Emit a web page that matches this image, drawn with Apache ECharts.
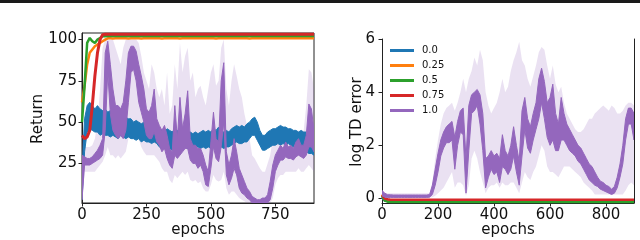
<!DOCTYPE html>
<html><head><meta charset="utf-8">
<script src="https://cdn.jsdelivr.net/npm/echarts@6/dist/echarts.min.js"></script>
<style>html,body{margin:0;padding:0;background:#fff}#c{width:640px;height:240px}</style>
</head><body><div id="c"></div>
<script>
const epochs = [
  0,10,20,30,40,50,60,70,80,90,
  100,110,120,130,140,150,160,170,180,190,
  200,210,220,230,240,250,260,270,280,290,
  300,310,320,330,340,350,360,370,380,390,
  400,410,420,430,440,450,460,470,480,490,
  500,510,520,530,540,550,560,570,580,590,
  600,610,620,630,640,650,660,670,680,690,
  700,710,720,730,740,750,760,770,780,790,
  800,810,820,830,840,850,860,870,880,890,900];
const seriesNames = ['0.0','0.25','0.5','0.75','1.0'];
const seriesColors = ['#1f77b4','#ff7f0e','#2ca02c','#d62728','#9467bd'];

// ---- Left panel: Return ----
const retBlueLo = [
  3,32,44,46,45,44,44,42,43,42,
  42,41,42,41,40,42,41,40,41,40,
  40,39,40,38,39,38,38,37,38,37,
  35,34,34,35,34,33,34,35,33,34,
  35,34,35,34,35,35,34,35,34,35,
  34,36,35,36,35,34,35,35,36,37,
  38,37,37,38,38,40,42,42,39,36,
  33,33,34,35,36,36,37,36,37,36,
  37,36,35,34,35,34,33,32,31,31,30];
const retBlueHi = [
  20,52,60,62,60,58,60,58,57,58,
  56,57,56,55,54,56,53,53,52,52,
  50,51,50,49,50,49,50,48,49,47,
  46,45,44,46,45,44,46,45,44,46,
  45,44,44,43,44,43,44,45,44,45,
  44,46,45,47,45,44,45,44,46,47,
  48,47,48,47,49,50,52,53,50,45,
  42,42,44,45,46,46,47,48,47,47,
  46,46,45,45,44,45,44,44,43,44,40];
const retOrange = [
  62,72,85,92,94,96,97,98,99,100,
  100.8,100.8,100.7,100.8,100.8,100.9,100.8,100.8,100.7,100.8,
  100.8,100.8,100.8,100.7,100.8,100.8,100.8,100.9,100.8,100.8,
  100.8,100.7,100.8,100.8,100.8,100.8,100.8,100.8,100.7,100.8,
  100.8,100.8,100.8,100.8,100.9,100.8,100.8,100.8,100.8,100.8,
  100.8,100.8,100.7,100.8,100.8,100.8,100.8,100.8,100.8,100.8,
  100.8,100.8,100.8,100.8,100.8,100.7,100.8,100.8,100.8,100.8,
  100.8,100.8,100.8,100.8,100.8,100.8,100.8,100.8,100.8,100.8,
  100.8,100.8,100.8,100.8,100.8,100.8,100.8,100.8,100.8,100.8,100.8];
const retGreen = [
  50,72,98,101,99,98,100,101,102,102,
  102.2,102.2,102.2,102.3,102.2,102.2,102.2,102.2,102.2,102.2,
  102.2,102.2,102.2,102.2,102.2,102.2,102.3,102.2,102.2,102.2,
  102.2,102.2,102.2,102.2,102.2,102.2,102.2,102.2,102.2,102.2,
  102.2,102.2,102.2,102.2,102.2,102.2,102.2,102.2,102.2,102.2,
  102.2,102.2,102.2,102.2,102.2,102.2,102.2,102.2,102.2,102.2,
  102.2,102.2,102.2,102.2,102.2,102.2,102.2,102.2,102.2,102.2,
  102.2,102.2,102.2,102.2,102.2,102.2,102.2,102.2,102.2,102.2,
  102.2,102.2,102.2,102.2,102.2,102.2,102.2,102.2,102.2,102.2,102.2];
const retRed = [
  42,40,41,45,60,78,92,100,103,103.3,
  103.3,103.3,103.3,103.3,103.3,103.3,103.3,103.3,103.3,103.3,
  103.3,103.3,103.3,103.3,103.3,103.3,103.3,103.3,103.3,103.3,
  103.3,103.3,103.3,103.3,103.3,103.3,103.3,103.3,103.3,103.3,
  103.3,103.3,103.3,103.3,103.3,103.3,103.3,103.3,103.3,103.3,
  103.3,103.3,103.3,103.3,103.3,103.3,103.3,103.3,103.3,103.3,
  103.3,103.3,103.3,103.3,103.3,103.3,103.3,103.3,103.3,103.3,
  103.3,103.3,103.3,103.3,103.3,103.3,103.3,103.3,103.3,103.3,
  103.3,103.3,103.3,103.3,103.3,103.3,103.3,103.3,103.3,103.3,103.3];
const retPurpleLo = [
  3,24,24,24,25,26,27,28,30,45,
  80,55,45,42,40,42,40,45,62,80,
  82,75,62,56,50,42,40,40,44,38,
  36,32,34,28,24,22,30,28,30,32,
  34,34,27,25,25,22,24,20,12,11,
  22,35,28,26,35,50,18,12,16,22,
  18,10,7,6,4,3,1,1,1,1,
  1,1,1,3,10,20,24,27,27,29,
  28,28,27,29,30,29,28,30,35,35,32];
const retPurpleHi = [
  30,29,28,28,29,31,33,36,40,92,
  99,85,70,60,60,58,62,75,92,96,
  96,93,85,78,70,58,56,60,70,52,
  48,45,48,42,34,32,60,40,65,46,
  55,69,40,36,36,34,34,30,24,20,
  38,56,40,38,75,86,32,24,30,40,
  32,22,18,14,10,8,5,4,3,3,
  4,4,6,14,24,30,33,36,34,38,
  35,36,34,38,40,36,36,42,61,58,45];
const retBandLo = [
  1,20,20,20,20,20,22,24,26,30,
  35,30,30,28,30,28,30,32,40,45,
  45,45,40,35,32,30,30,30,30,28,
  26,22,20,20,15,13,18,16,18,20,
  18,20,15,14,15,13,14,10,8,8,
  12,18,15,14,15,20,10,6,8,8,
  6,4,3,2,1,1,1,1,1,1,
  1,1,1,1,4,12,16,18,18,20,
  20,20,20,20,22,20,20,22,24,22,20];
const retBandHi = [
  45,35,35,35,36,40,50,70,95,100,
  100,100,100,95,90,85,95,100,100,100,
  100,100,98,90,80,75,70,85,80,70,
  65,70,60,80,55,60,85,70,98,80,
  90,95,75,80,65,70,72,65,60,70,
  80,85,72,75,95,100,70,60,75,85,
  78,70,65,55,48,40,30,28,25,22,
  20,20,25,30,40,45,42,42,40,44,
  42,45,42,44,45,42,45,60,82,80,70];

// ---- Right panel: log TD error ----
const tdBlue = [
  0.05,-0.08,-0.1,-0.1,-0.1,-0.1,-0.1,-0.1,-0.1,-0.1,
  -0.1,-0.1,-0.1,-0.1,-0.1,-0.1,-0.1,-0.1,-0.1,-0.1,
  -0.1,-0.1,-0.1,-0.1,-0.1,-0.1,-0.1,-0.1,-0.1,-0.1,
  -0.1,-0.1,-0.1,-0.1,-0.1,-0.1,-0.1,-0.1,-0.1,-0.1,
  -0.1,-0.1,-0.1,-0.1,-0.1,-0.1,-0.1,-0.1,-0.1,-0.1,
  -0.1,-0.1,-0.1,-0.1,-0.1,-0.1,-0.1,-0.1,-0.1,-0.1,
  -0.1,-0.1,-0.1,-0.1,-0.1,-0.1,-0.1,-0.1,-0.1,-0.1,
  -0.1,-0.1,-0.1,-0.1,-0.1,-0.1,-0.1,-0.1,-0.1,-0.1,
  -0.1,-0.1,-0.1,-0.1,-0.1,-0.1,-0.1,-0.1,-0.1,-0.1,-0.1];
const tdOrange = [
  0.15,-0.06,-0.1,-0.12,-0.12,-0.12,-0.1,-0.1,-0.1,-0.1,
  -0.1,-0.1,-0.1,-0.1,-0.1,-0.1,-0.1,-0.1,-0.1,-0.1,
  -0.1,-0.1,-0.1,-0.1,-0.1,-0.1,-0.1,-0.1,-0.1,-0.1,
  -0.1,-0.1,-0.1,-0.1,-0.1,-0.1,-0.1,-0.1,-0.1,-0.1,
  -0.1,-0.1,-0.1,-0.1,-0.1,-0.1,-0.1,-0.1,-0.1,-0.1,
  -0.1,-0.1,-0.1,-0.1,-0.1,-0.1,-0.1,-0.1,-0.1,-0.1,
  -0.1,-0.1,-0.1,-0.1,-0.1,-0.1,-0.1,-0.1,-0.1,-0.1,
  -0.1,-0.1,-0.1,-0.1,-0.1,-0.1,-0.1,-0.1,-0.1,-0.1,
  -0.1,-0.1,-0.1,-0.1,-0.1,-0.1,-0.1,-0.1,-0.1,-0.1,-0.1];
const tdGreen = [
  0.1,-0.08,-0.12,-0.13,-0.13,-0.13,-0.13,-0.13,-0.13,-0.13,
  -0.13,-0.13,-0.13,-0.13,-0.13,-0.13,-0.13,-0.13,-0.13,-0.13,
  -0.13,-0.13,-0.13,-0.13,-0.13,-0.13,-0.13,-0.13,-0.13,-0.13,
  -0.13,-0.13,-0.13,-0.13,-0.13,-0.13,-0.13,-0.13,-0.13,-0.13,
  -0.13,-0.13,-0.13,-0.13,-0.13,-0.13,-0.13,-0.13,-0.13,-0.13,
  -0.13,-0.13,-0.13,-0.13,-0.13,-0.13,-0.13,-0.13,-0.13,-0.13,
  -0.13,-0.13,-0.13,-0.13,-0.13,-0.13,-0.13,-0.13,-0.13,-0.13,
  -0.13,-0.13,-0.13,-0.13,-0.13,-0.13,-0.13,-0.13,-0.13,-0.13,
  -0.13,-0.13,-0.13,-0.13,-0.13,-0.13,-0.13,-0.13,-0.13,-0.13,-0.13];
const tdRed = [
  0.12,0.0,-0.03,-0.05,-0.05,-0.05,-0.05,-0.05,-0.05,-0.05,
  -0.05,-0.05,-0.05,-0.05,-0.05,-0.05,-0.05,-0.05,-0.05,-0.05,
  -0.05,-0.05,-0.05,-0.05,-0.05,-0.05,-0.05,-0.05,-0.05,-0.05,
  -0.05,-0.05,-0.05,-0.05,-0.05,-0.05,-0.05,-0.05,-0.05,-0.05,
  -0.05,-0.05,-0.05,-0.05,-0.05,-0.05,-0.05,-0.05,-0.05,-0.05,
  -0.05,-0.05,-0.05,-0.05,-0.05,-0.05,-0.05,-0.05,-0.05,-0.05,
  -0.05,-0.05,-0.05,-0.05,-0.05,-0.05,-0.05,-0.05,-0.05,-0.05,
  -0.05,-0.05,-0.05,-0.05,-0.05,-0.05,-0.05,-0.05,-0.05,-0.05,
  -0.05,-0.05,-0.05,-0.05,-0.05,-0.05,-0.05,-0.05,-0.05,-0.05,-0.05];
const tdPurpleLo = [
  0.1,0.05,0.04,0.04,0.04,0.04,0.04,0.04,0.04,0.04,
  0.04,0.04,0.04,0.04,0.04,0.04,0.04,0.05,0.15,0.5,
  1.0,1.6,1.9,2.1,2.1,2.2,1.1,2.0,2.5,2.4,
  0.2,1.8,3.2,3.3,3.5,2.8,1.8,0.4,0.8,1.1,
  0.9,1.0,0.6,1.2,1.1,0.9,1.1,1.6,1.0,0.5,
  1.6,2.6,1.9,1.7,2.2,2.6,3.0,3.6,3.0,2.3,
  2.0,2.2,1.8,1.8,2.2,2.2,2.0,1.8,1.7,1.6,
  1.4,1.3,1.1,0.9,0.7,0.6,0.5,0.45,0.35,0.3,
  0.25,0.2,0.15,0.2,0.4,0.8,1.3,2.2,2.8,2.8,2.2];
const tdPurpleHi = [
  0.3,0.2,0.14,0.14,0.13,0.13,0.13,0.13,0.13,0.13,
  0.13,0.13,0.13,0.13,0.13,0.13,0.13,0.15,0.5,1.1,
  1.7,2.2,2.5,2.7,2.8,2.9,2.3,2.9,3.3,3.4,
  1.5,3.5,3.9,4.0,4.1,3.9,3.2,1.5,1.6,1.8,
  1.6,1.7,1.5,2.4,1.8,1.6,2.0,2.7,2.0,1.4,
  3.3,3.8,3.0,2.7,3.2,3.6,4.5,4.9,4.4,3.6,
  3.8,4.3,3.2,2.8,3.8,3.2,2.8,2.6,2.4,2.2,
  2.0,1.9,1.7,1.5,1.3,1.2,1.0,0.8,0.65,0.6,
  0.5,0.45,0.35,0.45,0.8,1.3,2.0,3.0,3.4,3.4,3.2];
const tdBandLo = [
  0.1,0.05,0.04,0.04,0.04,0.04,0.04,0.04,0.04,0.04,
  0.04,0.04,0.04,0.04,0.04,0.04,0.04,0.04,0.05,0.1,
  0.2,0.3,0.4,0.6,0.8,1.0,0.4,0.6,0.6,0.5,
  0.1,0.5,1.5,1.8,1.5,1.0,0.6,0.2,0.4,0.5,
  0.5,0.6,0.4,0.6,0.5,0.5,0.6,0.6,0.4,0.2,
  0.6,1.0,0.8,0.7,1.0,1.2,1.6,2.0,1.8,1.2,
  1.0,1.0,0.9,0.8,1.0,1.2,1.2,1.2,1.1,1.0,
  0.9,0.8,0.6,0.5,0.4,0.3,0.15,0.15,0.15,0.15,
  0.15,0.15,0.15,0.15,0.15,0.15,0.15,0.3,0.5,0.6,0.5];
const tdBandHi = [
  0.3,0.2,0.2,0.2,0.2,0.2,0.2,0.2,0.2,0.2,
  0.2,0.2,0.2,0.2,0.2,0.2,0.2,0.2,0.6,1.5,
  2.2,2.8,3.2,3.4,3.5,3.6,3.3,3.6,4.0,4.5,
  4.0,4.5,4.8,5.3,5.0,5.6,5.2,4.0,3.5,3.2,
  3.4,3.6,4.0,4.5,4.0,4.2,4.8,5.2,5.5,5.9,
  5.2,5.0,4.5,4.2,4.6,5.0,5.5,5.7,5.6,5.0,
  4.5,5.0,4.3,4.0,4.2,3.6,3.2,3.0,2.8,2.6,
  2.5,2.5,2.6,2.8,3.0,3.0,3.2,3.3,3.4,3.5,
  3.4,3.3,3.5,3.4,3.2,3.2,3.3,3.5,3.6,3.6,3.5];

const returnTicks = [25, 50, 75, 100];
const epochTicksLeft = [0, 250, 500, 750];
const tdTicks = [0, 2, 4, 6];
const epochTicksRight = [0, 200, 400, 600, 800];

// ---- build ----
const FONT = 'DejaVu Sans';
const INK = '#111';
function pairs(ys){ return epochs.map((e,i)=>[e, ys[i]]); }

// filled region between lo and hi, drawn through the axes' scales (api.coord)
function band(name, lo, hi, color, fillOpacity, edgeWidth, ax, z){
  return {
    type:'custom', name:name, xAxisIndex:ax, yAxisIndex:ax, z:z, silent:true, clip:true,
    itemStyle:{color:color},
    data: epochs.map((e,i)=>[e, lo[i], hi[i]]),
    encode:{x:0, y:[1,2]},
    renderItem: function(params, api){
      if (params.dataIndexInside !== 0) return null;
      const n = params.dataInsideLength;
      const top = [], bot = [];
      for (let k = 0; k < n; k++){
        const x = api.value(0, k);
        top.push(api.coord([x, api.value(2, k)]));
        bot.push(api.coord([x, api.value(1, k)]));
      }
      const pts = top.concat(bot.reverse());
      return {
        type:'polygon', shape:{points:pts},
        style:{fill:color, opacity:fillOpacity,
               stroke: edgeWidth ? color : null, lineWidth: edgeWidth || 0, lineJoin:'round'}
      };
    }
  };
}
function line(name, ys, color, width, ax, z){
  return {type:'line', name:name, xAxisIndex:ax, yAxisIndex:ax, data:pairs(ys), symbol:'none', silent:true,
          lineStyle:{width:width, color:color}, itemStyle:{color:color}, z:z};
}
function xAxisCfg(grid, ticks, margin){
  return {type:'value', gridIndex:grid, min:0, max:900,
    axisLine:{show:true, onZero:false, lineStyle:{color:'#222', width:1}},
    axisTick:{show:true, length:3.5, customValues:ticks, lineStyle:{color:'#222', width:1}},
    axisLabel:{show:true, customValues:ticks, margin:margin, fontSize:15, fontFamily:FONT, color:INK},
    splitLine:{show:false}};
}
function yAxisCfg(grid, min, max, ticks, margin){
  return {type:'value', gridIndex:grid, min:min, max:max,
    axisLine:{show:true, onZero:false, lineStyle:{color:'#222', width:1}},
    axisTick:{show:true, length:3.5, customValues:ticks, lineStyle:{color:'#222', width:1}},
    axisLabel:{show:true, customValues:ticks, margin:margin, fontSize:15, fontFamily:FONT, color:INK},
    splitLine:{show:false}};
}

const C = seriesColors;
const series = [
  band('ret-std', retBandLo, retBandHi, C[4], 0.2, 0, 0, 1),
  band(seriesNames[0], retBlueLo, retBlueHi, C[0], 1, 1, 0, 2),
  line(seriesNames[1], retOrange, C[1], 2.5, 0, 3),
  line(seriesNames[2], retGreen, C[2], 2.5, 0, 3),
  line(seriesNames[3], retRed, C[3], 3, 0, 3),
  band(seriesNames[4], retPurpleLo, retPurpleHi, C[4], 1, 1, 0, 4),

  band('td-std', tdBandLo, tdBandHi, C[4], 0.2, 0, 1, 1),
  line(seriesNames[0], tdBlue, C[0], 2.5, 1, 2),
  line(seriesNames[1], tdOrange, C[1], 2.5, 1, 2),
  line(seriesNames[2], tdGreen, C[2], 2.5, 1, 2),
  line(seriesNames[3], tdRed, C[3], 2.5, 1, 3),
  band(seriesNames[4], tdPurpleLo, tdPurpleHi, C[4], 1, 1, 1, 4)
];

const option = {
  animation:false,
  backgroundColor:'#fff',
  grid:[
    {left:82, top:33, width:232, height:170, show:true, borderColor:'#222', borderWidth:1, backgroundColor:'transparent', outerBoundsMode:'none', containLabel:false},
    {left:382, top:39, width:252, height:164, show:false, outerBoundsMode:'none', containLabel:false}
  ],
  xAxis:[ xAxisCfg(0, epochTicksLeft, 5), xAxisCfg(1, epochTicksRight, 5) ],
  yAxis:[
    yAxisCfg(0, 1, 104, returnTicks, 5),
    yAxisCfg(1, -0.17, 6, tdTicks, 7),
    {type:'value', gridIndex:1, position:'right', min:-0.17, max:6,
     axisLine:{show:true, onZero:false, lineStyle:{color:'#222', width:1}},
     axisTick:{show:false}, axisLabel:{show:false}, splitLine:{show:false}}
  ],
  legend:{
    show:true, orient:'vertical', left:390, top:45, padding:0, itemGap:4,
    itemWidth:24, itemHeight:3, icon:'rect', selectedMode:false,
    textStyle:{fontSize:10, fontFamily:FONT, color:INK, lineHeight:11, padding:[0,0,0,3]},
    data: seriesNames.map((n,i)=>({name:n, itemStyle:{color:C[i], opacity:1, borderWidth:0}}))
  },
  graphic:[
    {type:'rect', left:0, top:0, shape:{width:640, height:3}, style:{fill:'#1a1a1a'}},
    {type:'text', x:38, y:119, rotation:Math.PI/2,
     style:{text:'Return', font:'15px "DejaVu Sans"', fill:INK, align:'center', verticalAlign:'middle'}},
    {type:'text', x:198, y:230,
     style:{text:'epochs', font:'15px "DejaVu Sans"', fill:INK, align:'center', verticalAlign:'middle'}},
    {type:'text', x:357, y:122, rotation:Math.PI/2,
     style:{text:'log TD error', font:'15px "DejaVu Sans"', fill:INK, align:'center', verticalAlign:'middle'}},
    {type:'text', x:508, y:230,
     style:{text:'epochs', font:'15px "DejaVu Sans"', fill:INK, align:'center', verticalAlign:'middle'}}
  ],
  series: series
};
const chart = echarts.init(document.getElementById('c'), null, {renderer:'canvas'});
chart.setOption(option);
</script></body></html>
